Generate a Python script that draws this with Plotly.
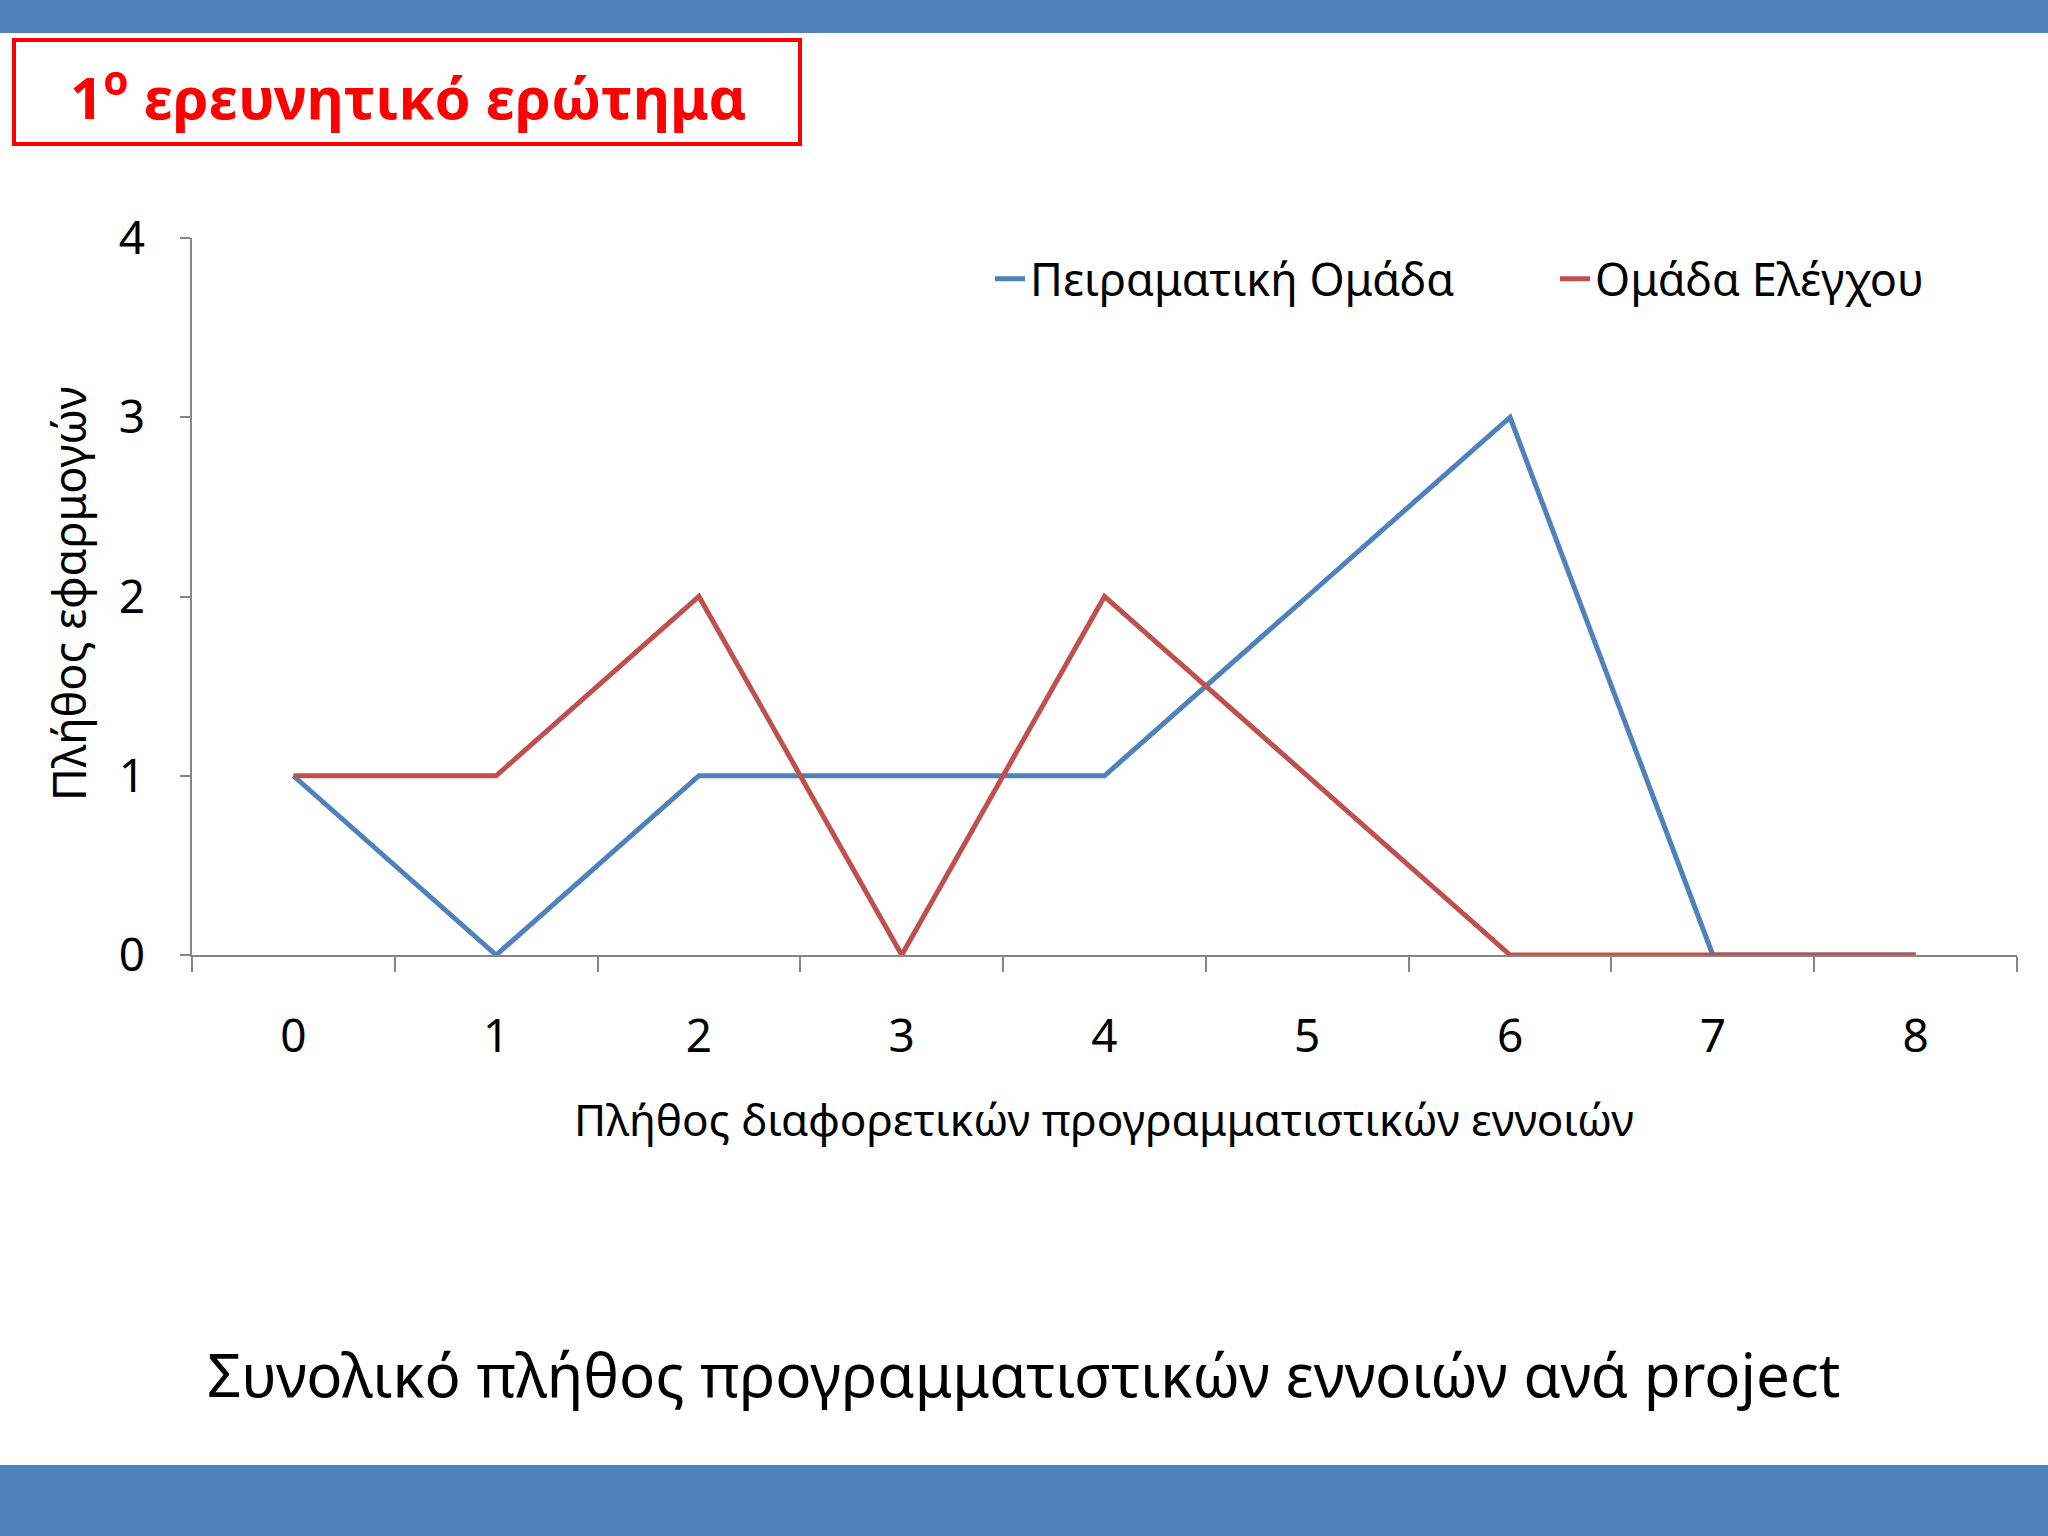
import plotly.graph_objects as go

categories = ["0", "1", "2", "3", "4", "5", "6", "7", "8"]
experimental = [1, 0, 1, 1, 1, 2, 3, 0, 0]
control = [1, 1, 2, 0, 2, 1, 0, 0, 0]
series_names = ["Πειραματική Ομάδα", "Ομάδα Ελέγχου"]
y_ticks = [0, 1, 2, 3, 4]

W, H = 2048, 1536
BLUE = "#4F81BD"
RED = "#C0504D"
AXIS = "#868686"
FONT = "Noto Sans"

def px(x):
    return x / W

def py(y):
    return 1 - y / H

fig = go.Figure()
fig.add_trace(go.Scatter(x=categories, y=experimental, mode="lines", name=series_names[0],
                         line=dict(color=BLUE, width=5)))
fig.add_trace(go.Scatter(x=categories, y=control, mode="lines", name=series_names[1],
                         line=dict(color=RED, width=5)))

fig.update_layout(
    width=W, height=H, autosize=False,
    margin=dict(l=0, r=0, t=0, b=0, pad=0, autoexpand=False),
    paper_bgcolor="white", plot_bgcolor="white",
    font=dict(family=FONT, color="black"),
    showlegend=True,
    legend=dict(orientation="h", x=px(990), y=py(279), xanchor="left", yanchor="middle",
                font=dict(size=45, family=FONT), bgcolor="rgba(0,0,0,0)",
                entrywidth=520, entrywidthmode="pixels"),
    xaxis=dict(domain=[px(192), px(2017)], type="category", range=[-0.5, 8.5], automargin=False,
               showgrid=False, zeroline=False, showline=True, linecolor=AXIS, linewidth=1.5,
               ticks="outside", ticklen=15, tickcolor=AXIS, tickwidth=1.5, tickson="boundaries",
               tickfont=dict(size=46, family=FONT), ticklabelstandoff=40),
    yaxis=dict(domain=[py(955), py(238)], range=[0, 4], tickvals=y_ticks, automargin=False,
               showgrid=False, zeroline=False, showline=True, linecolor=AXIS, linewidth=1.5,
               ticks="outside", ticklen=10, tickcolor=AXIS, tickwidth=1.5,
               tickfont=dict(size=46, family=FONT), ticklabelstandoff=26),
)

shapes = [
    dict(type="rect", xref="paper", yref="paper", x0=0, x1=1, y0=py(33), y1=1,
         fillcolor=BLUE, line=dict(width=0), layer="above"),
    dict(type="rect", xref="paper", yref="paper", x0=0, x1=1, y0=0, y1=py(1465),
         fillcolor=BLUE, line=dict(width=0), layer="above"),
    dict(type="rect", xref="paper", yref="paper", x0=px(14), x1=px(800), y0=py(144), y1=py(40),
         fillcolor="white", line=dict(color="#FF0000", width=4), layer="above"),
]
fig.update_layout(shapes=shapes)

annotations = [
    dict(text="<b>1<sup>ο</sup> ερευνητικό ερώτημα</b>", x=px(408), y=py(94), xref="paper", yref="paper",
         showarrow=False, xanchor="center", yanchor="middle",
         font=dict(size=58, color="#FF0000", family=FONT)),
    dict(text="Πλήθος εφαρμογών", x=px(68), y=py(594), xref="paper", yref="paper",
         showarrow=False, textangle=-90, xanchor="center", yanchor="middle",
         font=dict(size=45, family=FONT)),
    dict(text="Πλήθος διαφορετικών προγραμματιστικών εννοιών", x=px(1104), y=py(1119),
         xref="paper", yref="paper", showarrow=False, xanchor="center", yanchor="middle",
         font=dict(size=44, family=FONT)),
    dict(text="Συνολικό πλήθος προγραμματιστικών εννοιών ανά project", x=px(1023), y=py(1374),
         xref="paper", yref="paper", showarrow=False, xanchor="center", yanchor="middle",
         font=dict(size=60, family=FONT)),
]
fig.update_layout(annotations=annotations)

fig.write_html("out.html", config={"displayModeBar": False},
               post_script="document.body.style.margin='0';document.body.style.overflow='hidden';")
